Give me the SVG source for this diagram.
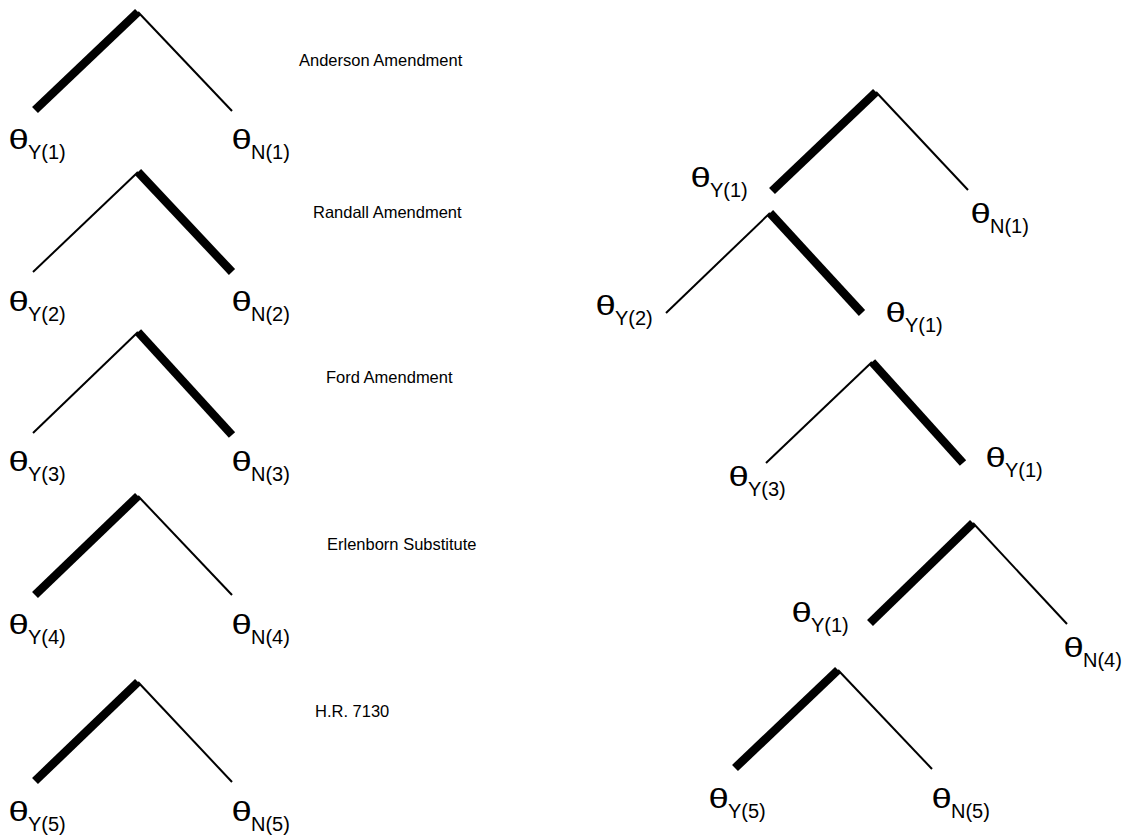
<svg xmlns="http://www.w3.org/2000/svg" width="1130" height="840" viewBox="0 0 1130 840">
  <style>
    .bg { fill: #ffffff; }
    .thin { stroke: #000; stroke-width: 2; fill: none; stroke-linecap: butt; }
    .thick { stroke: #000; stroke-width: 8.5; fill: none; stroke-linecap: butt; }
    .th { font-family: "Liberation Sans", Arial, sans-serif; font-size: 27px; fill: #000; }
    .sub { font-family: "Liberation Sans", Arial, sans-serif; font-size: 20px; fill: #000; }
    .title { font-family: "Liberation Sans", Arial, sans-serif; font-size: 16.5px; fill: #000; }
  </style>
  <rect class="bg" x="0" y="0" width="1130" height="840"/>

  <!-- branches: thick = chosen alternative -->
  <g id="connectors">
    <!-- left column -->
    <line class="thick" x1="35" y1="110" x2="138" y2="12"/>
    <line class="thin" x1="138" y1="12" x2="232" y2="111"/>

    <line class="thin" x1="33" y1="272" x2="138" y2="172"/>
    <line class="thick" x1="138" y1="172" x2="232" y2="272"/>

    <line class="thin" x1="33" y1="433" x2="138" y2="332"/>
    <line class="thick" x1="138" y1="332" x2="232" y2="435"/>

    <line class="thick" x1="35" y1="595" x2="138" y2="496"/>
    <line class="thin" x1="138" y1="496" x2="232" y2="595"/>

    <line class="thick" x1="35" y1="781" x2="138" y2="682"/>
    <line class="thin" x1="138" y1="682" x2="232" y2="782"/>

    <!-- right column -->
    <line class="thick" x1="772" y1="191" x2="876" y2="92"/>
    <line class="thin" x1="876" y1="92" x2="968" y2="190"/>

    <line class="thin" x1="666" y1="313" x2="770" y2="213"/>
    <line class="thick" x1="770" y1="213" x2="862" y2="313"/>

    <line class="thin" x1="766" y1="463" x2="872" y2="362"/>
    <line class="thick" x1="872" y1="362" x2="963" y2="463"/>

    <line class="thick" x1="870" y1="623" x2="973" y2="523"/>
    <line class="thin" x1="973" y1="523" x2="1067" y2="624"/>

    <line class="thick" x1="735" y1="768" x2="838" y2="670"/>
    <line class="thin" x1="838" y1="670" x2="932" y2="769"/>
  </g>

  <!-- vote titles -->
  <g id="titles">
    <text class="title" x="299" y="66">Anderson Amendment</text>
    <text class="title" x="313" y="218">Randall Amendment</text>
    <text class="title" x="326" y="383">Ford Amendment</text>
    <text class="title" x="327" y="550">Erlenborn Substitute</text>
    <text class="title" x="315" y="717">H.R. 7130</text>
  </g>

  <!-- left column leaves -->
  <g id="L1-yes"><text class="th" transform="translate(8.5,149) scale(1.35,1)">θ</text><text class="sub" x="28" y="159">Y(1)</text></g>
  <g id="L1-no"><text class="th" transform="translate(231.5,149) scale(1.35,1)">θ</text><text class="sub" x="251" y="159">N(1)</text></g>

  <g id="L2-yes"><text class="th" transform="translate(8.5,311) scale(1.35,1)">θ</text><text class="sub" x="28" y="321">Y(2)</text></g>
  <g id="L2-no"><text class="th" transform="translate(231.5,311) scale(1.35,1)">θ</text><text class="sub" x="251" y="321">N(2)</text></g>

  <g id="L3-yes"><text class="th" transform="translate(8.5,471) scale(1.35,1)">θ</text><text class="sub" x="28" y="481">Y(3)</text></g>
  <g id="L3-no"><text class="th" transform="translate(231.5,471) scale(1.35,1)">θ</text><text class="sub" x="251" y="481">N(3)</text></g>

  <g id="L4-yes"><text class="th" transform="translate(8.5,634) scale(1.35,1)">θ</text><text class="sub" x="28" y="644">Y(4)</text></g>
  <g id="L4-no"><text class="th" transform="translate(231.5,634) scale(1.35,1)">θ</text><text class="sub" x="251" y="644">N(4)</text></g>

  <g id="L5-yes"><text class="th" transform="translate(8.5,821) scale(1.35,1)">θ</text><text class="sub" x="28" y="831">Y(5)</text></g>
  <g id="L5-no"><text class="th" transform="translate(231.5,821) scale(1.35,1)">θ</text><text class="sub" x="251" y="831">N(5)</text></g>

  <!-- right column leaves -->
  <g id="R1-yes"><text class="th" transform="translate(690.5,187) scale(1.35,1)">θ</text><text class="sub" x="710" y="197">Y(1)</text></g>
  <g id="R1-no"><text class="th" transform="translate(970.5,223) scale(1.35,1)">θ</text><text class="sub" x="990" y="233">N(1)</text></g>

  <g id="R2-yes"><text class="th" transform="translate(595.5,315) scale(1.35,1)">θ</text><text class="sub" x="615" y="325">Y(2)</text></g>
  <g id="R2-keep"><text class="th" transform="translate(885.5,322) scale(1.35,1)">θ</text><text class="sub" x="905" y="332">Y(1)</text></g>

  <g id="R3-yes"><text class="th" transform="translate(728.5,486) scale(1.35,1)">θ</text><text class="sub" x="748" y="496">Y(3)</text></g>
  <g id="R3-keep"><text class="th" transform="translate(985.5,467) scale(1.35,1)">θ</text><text class="sub" x="1005" y="477">Y(1)</text></g>

  <g id="R4-keep"><text class="th" transform="translate(791.5,622) scale(1.35,1)">θ</text><text class="sub" x="811" y="632">Y(1)</text></g>
  <g id="R4-no"><text class="th" transform="translate(1063.5,657) scale(1.35,1)">θ</text><text class="sub" x="1083" y="667">N(4)</text></g>

  <g id="R5-yes"><text class="th" transform="translate(708.5,808) scale(1.35,1)">θ</text><text class="sub" x="728" y="818">Y(5)</text></g>
  <g id="R5-no"><text class="th" transform="translate(931.5,808) scale(1.35,1)">θ</text><text class="sub" x="951" y="818">N(5)</text></g>
</svg>
